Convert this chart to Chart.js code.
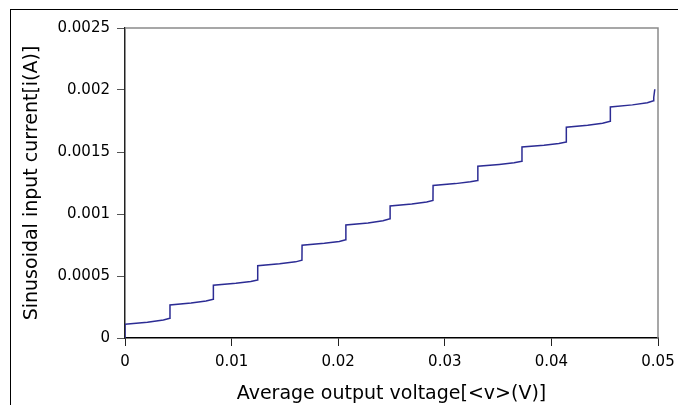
<!DOCTYPE html>
<html>
<head>
<meta charset="utf-8">
<script src="https://cdn.jsdelivr.net/npm/chart.js@4/dist/chart.umd.min.js"></script>
<style>
  body { margin: 0; background: #fff; }
  canvas { display: block; }
</style>
</head>
<body>
<canvas id="chart-iv" width="678" height="405"></canvas>
<script>
// average output voltage (V)
const voltage = [
  0, 0, 0.0021, 0.0036, 0.00421,
  0.00422, 0.0062, 0.0076, 0.00828,
  0.00829, 0.0104, 0.0118, 0.01244,
  0.01245, 0.0145, 0.016, 0.0166,
  0.01661, 0.0187, 0.0201, 0.02071,
  0.02072, 0.0228, 0.0242, 0.02486,
  0.02487, 0.0269, 0.0283, 0.02889,
  0.0289, 0.031, 0.0324, 0.03309,
  0.0331, 0.0351, 0.0365, 0.03723,
  0.03724, 0.0393, 0.0407, 0.04139,
  0.0414, 0.0434, 0.0448, 0.04552,
  0.04553, 0.0476, 0.049, 0.04958,
  0.0496, 0.0497
];
// sinusoidal input current (A)
const current = [
  0, 0.00011, 0.000127, 0.000146, 0.000159,
  0.000266, 0.000282, 0.000298, 0.000312,
  0.000425, 0.000441, 0.000456, 0.000468,
  0.000583, 0.000598, 0.000614, 0.000627,
  0.000748, 0.000764, 0.000779, 0.000792,
  0.000911, 0.000928, 0.000946, 0.000962,
  0.001065, 0.001081, 0.001097, 0.00111,
  0.00123, 0.001245, 0.00126, 0.00127,
  0.001385, 0.0014, 0.001413, 0.001425,
  0.00154, 0.001555, 0.001568, 0.00158,
  0.0017, 0.001716, 0.001732, 0.001747,
  0.001863, 0.00188, 0.001898, 0.001914,
  0.00194, 0.002006
];
const xTicks = [0, 0.01, 0.02, 0.03, 0.04, 0.05];
const yTicks = [0, 0.0005, 0.001, 0.0015, 0.002, 0.0025];

const points = voltage.map((v, i) => ({ x: v, y: current[i] }));

// white page, outer frame, gray top/right border of plot
const framePlugin = {
  id: 'frame',
  beforeDraw(chart) {
    const ctx = chart.ctx;
    ctx.save();
    ctx.fillStyle = '#fff';
    ctx.fillRect(0, 0, chart.width, chart.height);
    ctx.strokeStyle = '#000';
    ctx.lineWidth = 1;
    ctx.strokeRect(10.5, 9.5, 800, 500);
    ctx.restore();
  },
  afterDraw(chart) {
    const a = chart.chartArea;
    const ctx = chart.ctx;
    ctx.save();
    ctx.strokeStyle = '#8a8a8a';
    ctx.lineWidth = 1.5;
    ctx.beginPath();
    ctx.moveTo(a.left, a.top);
    ctx.lineTo(a.right, a.top);
    ctx.lineTo(a.right, a.bottom);
    ctx.stroke();
    ctx.restore();
  }
};

new Chart(document.getElementById('chart-iv'), {
  type: 'scatter',
  data: {
    datasets: [{
      data: points,
      showLine: true,
      borderColor: '#2c2c94',
      borderWidth: 1.5,
      pointRadius: 0,
      tension: 0
    }]
  },
  options: {
    responsive: false,
    animation: false,
    layout: { padding: { top: 28, right: 20, left: 0, bottom: 0 } },
    plugins: { legend: { display: false }, tooltip: { enabled: false } },
    scales: {
      x: {
        type: 'linear',
        min: 0,
        max: 0.05,
        afterFit: s => { s.height = 67; s.paddingLeft = 0; s.paddingRight = 0; },
        afterBuildTicks: s => { s.ticks = xTicks.map(v => ({ value: v })); },
        grid: { drawOnChartArea: false, drawTicks: true, tickLength: 8, color: '#222' },
        border: { display: true, color: '#000', width: 1.5 },
        ticks: {
          color: '#000',
          padding: 7,
          maxRotation: 0,
          font: { family: 'DejaVu Sans', size: 15 },
          callback: v => String(v)
        },
        title: {
          display: true,
          text: 'Average output voltage[<v>(V)]',
          color: '#000',
          font: { family: 'DejaVu Sans', size: 19 },
          padding: { top: 8, bottom: 0 }
        }
      },
      y: {
        type: 'linear',
        min: 0,
        max: 0.0025,
        afterFit: s => { s.width = 125; s.paddingTop = 0; s.paddingBottom = 0; },
        afterBuildTicks: s => { s.ticks = yTicks.map(v => ({ value: v })); },
        grid: { drawOnChartArea: false, drawTicks: true, tickLength: 8, color: '#555' },
        border: { display: true, color: '#222', width: 1.5 },
        ticks: {
          color: '#000',
          padding: 7,
          font: { family: 'DejaVu Sans', size: 15 },
          callback: v => String(v)
        },
        title: {
          display: true,
          text: 'Sinusoidal input current[i(A)]',
          color: '#000',
          font: { family: 'DejaVu Sans', size: 19 },
          padding: { top: 21, bottom: 0 }
        }
      }
    }
  },
  plugins: [framePlugin]
});
</script>
</body>
</html>
